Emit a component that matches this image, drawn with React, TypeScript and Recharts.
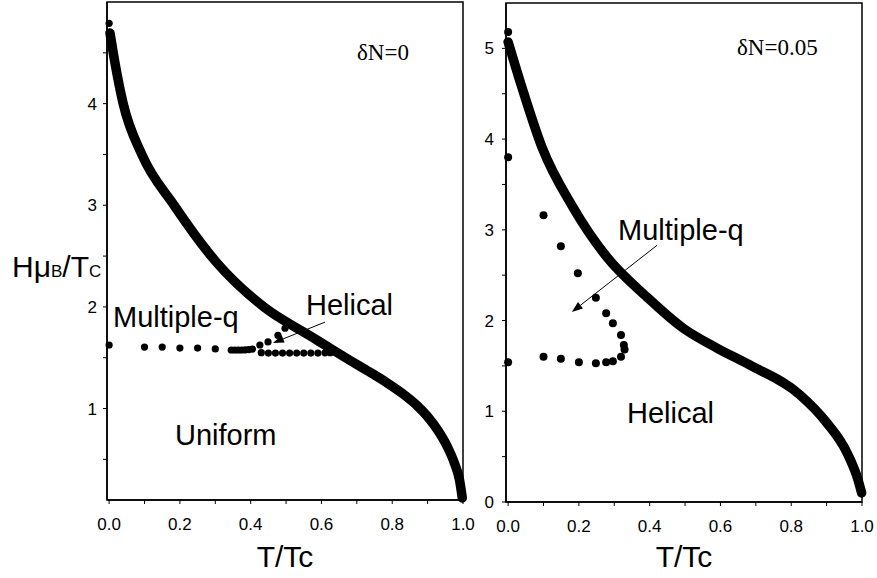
import React from 'react';
import {
  ComposedChart,
  Line,
  Scatter,
  XAxis,
  YAxis,
  ReferenceArea,
  ReferenceLine,
} from 'recharts';

// ---------- data ----------
const leftCurveT = [0.0025, 0.0166, 0.0392, 0.093, 0.183, 0.305, 0.4376, 0.5733, 0.6326, 0.68, 0.73, 0.78, 0.83, 0.87, 0.9, 0.93, 0.955, 0.975, 0.99, 0.998];
const leftCurveH = [4.695, 4.4, 4.007, 3.495, 3.003, 2.432, 1.999, 1.704, 1.575, 1.475, 1.372, 1.265, 1.145, 1.03, 0.92, 0.78, 0.63, 0.47, 0.3, 0.12];

const leftDotsT = [0, 0, 0.1, 0.15, 0.2, 0.25, 0.3, 0.345, 0.355, 0.365, 0.375, 0.385, 0.395, 0.405, 0.426, 0.449, 0.477, 0.497, 0.43, 0.45, 0.47, 0.49, 0.51, 0.53, 0.55, 0.57, 0.59, 0.61, 0.625];
const leftDotsH = [4.79, 1.625, 1.605, 1.605, 1.595, 1.595, 1.586, 1.576, 1.576, 1.576, 1.576, 1.578, 1.58, 1.585, 1.625, 1.655, 1.72, 1.79, 1.55, 1.546, 1.546, 1.546, 1.546, 1.546, 1.546, 1.546, 1.546, 1.548, 1.55];

const rightCurveT = [0.0, 0.039, 0.0957, 0.183, 0.279, 0.392, 0.494, 0.59, 0.683, 0.825, 0.901, 0.958, 0.989, 0.999];
const rightCurveH = [5.07, 4.57, 3.91, 3.25, 2.7, 2.26, 1.918, 1.697, 1.51, 1.18, 0.871, 0.54, 0.242, 0.1];

const rightDotsT = [0, 0, 0.1, 0.149, 0.197, 0.248, 0.277, 0.296, 0.319, 0.327, 0.329, 0.319, 0.296, 0.277, 0.248, 0.2, 0.149, 0.1, 0];
const rightDotsH = [5.18, 3.8, 3.16, 2.82, 2.52, 2.25, 2.08, 1.97, 1.84, 1.73, 1.68, 1.6, 1.55, 1.54, 1.53, 1.54, 1.58, 1.6, 1.54];

const xTicks = [0, 0.1, 0.2, 0.3, 0.4, 0.5, 0.6, 0.7, 0.8, 0.9, 1.0];
const leftYTicks = [0.5, 1, 1.5, 2, 2.5, 3, 3.5, 4, 4.5];
const rightYTicks = [0, 0.5, 1, 1.5, 2, 2.5, 3, 3.5, 4, 4.5, 5];

// arrow segments [start, end] in data coordinates
const leftArrow = [{ x: 0.61, y: 1.85 }, { x: 0.463, y: 1.645 }];
const rightArrow = [{ x: 0.421, y: 2.83 }, { x: 0.18, y: 2.094 }];

const zip = (t: number[], h: number[]) => t.map((T, i) => ({ T, H: h[i] }));
const leftCurve = zip(leftCurveT, leftCurveH);
const leftDots = zip(leftDotsT, leftDotsH);
const rightCurve = zip(rightCurveT, rightCurveH);
const rightDots = zip(rightDotsT, rightDotsH);

const SANS = 'Liberation Sans, Arial, sans-serif';
const SERIF = 'Liberation Serif, Times New Roman, serif';

const xFmt = (v: number) => (Math.round(v * 10) % 2 === 0 ? v.toFixed(1) : '');
const yFmt = (v: number) => (Number.isInteger(v) ? String(v) : '');

const tickStyle = { fontFamily: SANS, fontSize: 17, fill: '#000' };

const Arrow = (p: any) => {
  const { x1, y1, x2, y2 } = p;
  const dx = x2 - x1;
  const dy = y2 - y1;
  const len = Math.hypot(dx, dy) || 1;
  const ux = dx / len;
  const uy = dy / len;
  const L = 11;
  const W = 4;
  const bx = x2 - ux * L;
  const by = y2 - uy * L;
  return (
    <g>
      <line x1={x1} y1={y1} x2={bx} y2={by} stroke="#000" strokeWidth={1} />
      <polygon
        points={`${x2},${y2} ${bx - uy * W},${by + ux * W} ${bx + uy * W},${by - ux * W}`}
        fill="#000"
      />
    </g>
  );
};

const dot = (r: number) => (p: any) => <circle cx={p.cx} cy={p.cy} r={r} fill="#000" />;

const axisLine = { stroke: '#000', strokeWidth: 1.5 };
const tickLine = { stroke: '#000' };

const LeftChart = () => (
  <ComposedChart width={480} height={578} margin={{ top: 2, right: 17, bottom: 8, left: 47 }}>
    <XAxis
      type="number"
      dataKey="T"
      domain={[-0.006, 1]}
      ticks={xTicks}
      tickFormatter={xFmt}
      interval={0}
      height={70}
      tickSize={4}
      tickMargin={14}
      tick={tickStyle}
      axisLine={axisLine}
      tickLine={tickLine}
    />
    <YAxis
      type="number"
      dataKey="H"
      domain={[0.1, 5]}
      ticks={leftYTicks}
      tickFormatter={yFmt}
      interval={0}
      width={60}
      tickSize={4}
      tickMargin={6}
      tick={tickStyle}
      axisLine={axisLine}
      tickLine={tickLine}
    />
    <ReferenceArea x1={-0.006} x2={1} y1={0.1} y2={5} fill="none" stroke="#000" strokeWidth={1.5} />
    <Line
      data={leftCurve}
      dataKey="H"
      type="monotone"
      stroke="#000"
      strokeWidth={9.5}
      strokeLinecap="round"
      strokeLinejoin="round"
      dot={false}
      activeDot={false}
      isAnimationActive={false}
    />
    <Scatter data={leftDots} dataKey="H" shape={dot(3.6)} isAnimationActive={false} />
    <ReferenceLine segment={leftArrow} shape={Arrow} />
    <text x={357} y={60} fontFamily={SERIF} fontSize={23} fill="#000">δN=0</text>
    <text x={113} y={327} fontFamily={SANS} fontSize={29} fill="#000">Multiple-q</text>
    <text x={306} y={315} fontFamily={SANS} fontSize={29} fill="#000">Helical</text>
    <text x={175} y={445} fontFamily={SANS} fontSize={29} fill="#000">Uniform</text>
    <text x={12} y={277} fontFamily={SANS} fontSize={30} fill="#000">
      <tspan>Hμ</tspan>
      <tspan fontSize={17}>B</tspan>
      <tspan>/T</tspan>
      <tspan fontSize={17}>C</tspan>
    </text>
    <text x={285} y={567} textAnchor="middle" fontFamily={SANS} fontSize={30} fill="#000">T/Tc</text>
  </ComposedChart>
);

const RightChart = () => (
  <ComposedChart width={397} height={578} margin={{ top: 3, right: 15, bottom: 6, left: 0 }}>
    <XAxis
      type="number"
      dataKey="T"
      domain={[-0.006, 1]}
      ticks={xTicks}
      tickFormatter={xFmt}
      interval={0}
      height={70}
      tickSize={4}
      tickMargin={14}
      tick={tickStyle}
      axisLine={axisLine}
      tickLine={tickLine}
    />
    <YAxis
      type="number"
      dataKey="H"
      domain={[0, 5.5]}
      ticks={rightYTicks}
      tickFormatter={yFmt}
      interval={0}
      width={26}
      tickSize={4}
      tickMargin={8}
      tick={tickStyle}
      axisLine={axisLine}
      tickLine={tickLine}
    />
    <ReferenceArea x1={-0.006} x2={1} y1={0} y2={5.5} fill="none" stroke="#000" strokeWidth={1.5} />
    <Line
      data={rightCurve}
      dataKey="H"
      type="monotone"
      stroke="#000"
      strokeWidth={9.5}
      strokeLinecap="round"
      strokeLinejoin="round"
      dot={false}
      activeDot={false}
      isAnimationActive={false}
    />
    <Scatter data={rightDots} dataKey="H" shape={dot(4)} isAnimationActive={false} />
    <ReferenceLine segment={rightArrow} shape={Arrow} />
    <text x={257} y={55} fontFamily={SERIF} fontSize={23} fill="#000">δN=0.05</text>
    <text x={138} y={240} fontFamily={SANS} fontSize={29} fill="#000">Multiple-q</text>
    <text x={147} y={423} fontFamily={SANS} fontSize={29} fill="#000">Helical</text>
    <text x={204} y={567} textAnchor="middle" fontFamily={SANS} fontSize={30} fill="#000">T/Tc</text>
  </ComposedChart>
);

export default function App() {
  return (
    <div style={{ position: 'absolute', left: 0, top: 0, width: 877, height: 578, background: '#fff' }}>
      <div style={{ position: 'absolute', left: 0, top: 0 }}>
        <LeftChart />
      </div>
      <div style={{ position: 'absolute', left: 480, top: 0 }}>
        <RightChart />
      </div>
    </div>
  );
}
